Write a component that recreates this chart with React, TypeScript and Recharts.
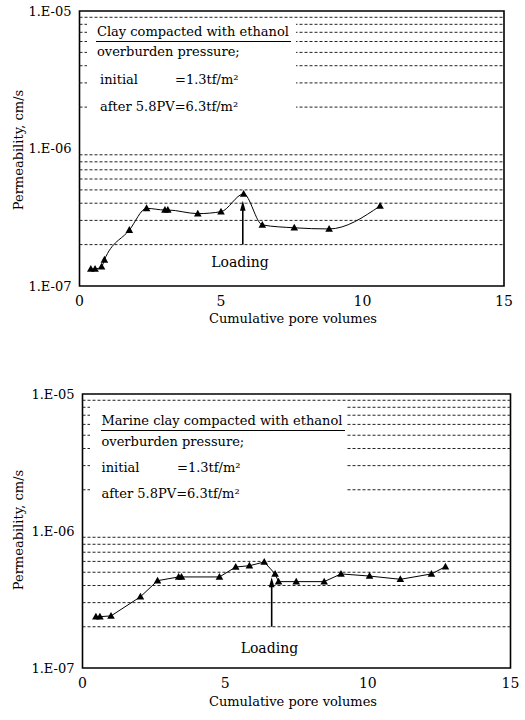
import React from "react";
import {
  LineChart,
  Line,
  XAxis,
  YAxis,
  ReferenceLine,
  ReferenceArea,
  ReferenceDot,
  Customized,
} from "recharts";

// ---- data ----
const topX = [0.4, 0.55, 0.78, 0.88, 1.76, 2.37, 3.02, 3.12, 4.18, 5.0, 5.8, 6.46, 7.59, 8.82, 10.62];
const topK = [1.33e-7, 1.33e-7, 1.38e-7, 1.55e-7, 2.55e-7, 3.67e-7, 3.57e-7, 3.57e-7, 3.36e-7, 3.47e-7, 4.67e-7, 2.78e-7, 2.65e-7, 2.6e-7, 3.82e-7];

const bottomX = [0.47, 0.61, 1.0, 2.03, 2.63, 3.37, 3.47, 4.8, 5.37, 5.85, 6.37, 6.75, 6.87, 7.49, 8.47, 9.06, 10.06, 11.14, 12.23, 12.72];
const bottomK = [2.37e-7, 2.37e-7, 2.4e-7, 3.31e-7, 4.34e-7, 4.62e-7, 4.62e-7, 4.62e-7, 5.46e-7, 5.58e-7, 5.94e-7, 4.86e-7, 4.27e-7, 4.27e-7, 4.27e-7, 4.86e-7, 4.69e-7, 4.44e-7, 4.86e-7, 5.49e-7];

const xTicks = [0, 5, 10, 15];
const yTicks = [1e-7, 1e-6, 1e-5];
const yTickLabels = ["1.E-07", "1.E-06", "1.E-05"];
const gridValues = [
  2e-7, 3e-7, 4e-7, 5e-7, 6e-7, 7e-7, 8e-7, 9e-7,
  2e-6, 3e-6, 4e-6, 5e-6, 6e-6, 7e-6, 8e-6, 9e-6,
];

const topTitle = "Clay compacted with ethanol";
const bottomTitle = "Marine clay compacted with ethanol";
const pressureLabel = "overburden pressure;";
const initialLabel = "initial";
const initialValue = "=1.3tf/m\u00B2";
const afterLabel = "after 5.8PV=6.3tf/m\u00B2";
const xTitle = "Cumulative pore volumes";
const yTitle = "Permeability, cm/s";
const loadingLabel = "Loading";

// loading arrows: [x, base, shaftTop, tip]
const topArrow = [5.77, 2e-7, 3.8e-7, 4.17e-7];
const bottomArrow = [6.63, 2e-7, 4.1e-7, 4.6e-7];
const topLoadingText = [5.67, 1.5e-7];
const bottomLoadingText = [6.55, 1.39e-7];

const FONT = "'DejaVu Serif', 'Liberation Serif', serif";

const topData = topX.map((x, i) => ({ x, k: topK[i] }));
const bottomData = bottomX.map((x, i) => ({ x, k: bottomK[i] }));

const Tri = (props: any) => {
  const { cx, cy } = props;
  if (cx == null || cy == null) return null;
  return (
    <path
      d={`M${cx},${cy - 4} L${cx + 3.8},${cy + 2.8} L${cx - 3.8},${cy + 2.8} Z`}
      fill="#000"
      stroke="none"
    />
  );
};

const ArrowHead = (props: any) => {
  const { cx, cy } = props;
  if (cx == null || cy == null) return null;
  return (
    <path
      d={`M${cx},${cy} L${cx + 2.8},${cy + 10} L${cx - 2.8},${cy + 10} Z`}
      fill="#000"
    />
  );
};

const Empty = () => <g />;

function Panel(props: {
  data: any[];
  yAxisWidth: number;
  right: number;
  bottom: number;
  curve: any;
  arrow: number[];
  loadText: number[];
  xTitleY: number;
  yTitleY: number;
}) {
  const { data, yAxisWidth, right, bottom, curve, arrow, loadText, xTitleY, yTitleY } = props;
  return (
    <LineChart
      width={525}
      height={340}
      data={data}
      margin={{ top: 11, right, bottom, left: 0 }}
    >
      <XAxis
        type="number"
        dataKey="x"
        domain={[0, 15]}
        ticks={xTicks}
        axisLine={false}
        tickLine={false}
        height={30}
        tickMargin={4}
        tick={{ fill: "#000", fontSize: 14, fontFamily: FONT }}
      />
      <YAxis
        type="number"
        scale="log"
        domain={[1e-7, 1e-5]}
        ticks={yTicks}
        allowDataOverflow
        axisLine={false}
        tickLine={false}
        width={yAxisWidth}
        tickFormatter={(v: number) => {
          const i = yTicks.findIndex((t) => Math.abs(Math.log10(t) - Math.log10(v)) < 1e-6);
          return i >= 0 ? yTickLabels[i] : "";
        }}
        tick={{ fill: "#000", fontSize: 13, fontFamily: FONT }}
      />
      {gridValues.map((v) => (
        <ReferenceLine
          key={v}
          y={v}
          stroke="#222"
          strokeWidth={1}
          strokeDasharray="3 2"
        />
      ))}
      <ReferenceArea
        x1={0}
        x2={15}
        y1={1e-7}
        y2={1e-5}
        fill="none"
        fillOpacity={0}
        stroke="#000"
        strokeWidth={1.6}
      />
      <ReferenceLine
        segment={[
          { x: arrow[0], y: arrow[1] },
          { x: arrow[0], y: arrow[2] },
        ]}
        stroke="#000"
        strokeWidth={1.6}
      />
      <ReferenceDot x={arrow[0]} y={arrow[3]} r={3} shape={ArrowHead} />
      <ReferenceDot
        x={loadText[0]}
        y={loadText[1]}
        r={1}
        shape={Empty}
        label={{
          value: loadingLabel,
          position: "center",
          fill: "#000",
          fontSize: 14,
          fontFamily: FONT,
        }}
      />
      <Line
        type={curve}
        dataKey="k"
        stroke="#000"
        strokeWidth={1}
        dot={Tri}
        activeDot={false}
        isAnimationActive={false}
      />
      <Customized
        component={() => (
          <g>
            <text
              x={293}
              y={xTitleY}
              textAnchor="middle"
              dominantBaseline="central"
              fontSize={13}
              fontFamily={FONT}
              fill="#000"
            >
              {xTitle}
            </text>
            <text
              x={18}
              y={yTitleY}
              textAnchor="middle"
              dominantBaseline="central"
              fontSize={13}
              fontFamily={FONT}
              fill="#000"
              transform={`rotate(-90 18 ${yTitleY})`}
            >
              {yTitle}
            </text>
          </g>
        )}
      />
    </LineChart>
  );
}

const lineStyle: React.CSSProperties = {
  position: "absolute",
  fontFamily: FONT,
  fontSize: 13,
  lineHeight: "15px",
  color: "#000",
  whiteSpace: "nowrap",
};

function Note(props: {
  box: number[];
  titleText: string;
  titleLeft: number;
  titleTop: number;
  underlineWidth: number;
  pressTop: number;
  initTop: number;
  initLeft: number;
  valLeft: number;
  afterTop: number;
}) {
  const p = props;
  return (
    <>
      <div
        style={{
          position: "absolute",
          left: p.box[0],
          top: p.box[1],
          width: p.box[2],
          height: p.box[3],
          background: "#fff",
        }}
      />
      <div
        style={{
          ...lineStyle,
          left: p.titleLeft - 1,
          top: p.titleTop,
          width: p.underlineWidth,
          height: 17,
          borderBottom: "1.3px solid #000",
          paddingLeft: 1,
        }}
      >
        {p.titleText}
      </div>
      <div style={{ ...lineStyle, left: p.titleLeft, top: p.pressTop }}>{pressureLabel}</div>
      <div style={{ ...lineStyle, left: p.initLeft, top: p.initTop }}>{initialLabel}</div>
      <div style={{ ...lineStyle, left: p.valLeft, top: p.initTop }}>{initialValue}</div>
      <div style={{ ...lineStyle, left: p.initLeft, top: p.afterTop }}>{afterLabel}</div>
    </>
  );
}

export default function App() {
  return (
    <div style={{ position: "absolute", left: 0, top: 0, width: 525, height: 720, background: "#fff" }}>
      <div style={{ position: "absolute", left: 0, top: 0 }}>
        <Panel
          data={topData}
          yAxisWidth={79.5}
          right={21}
          bottom={24}
          curve="monotone"
          arrow={topArrow}
          loadText={topLoadingText}
          xTitleY={318}
          yTitleY={150}
        />
      </div>
      <Note
        box={[87, 20, 209, 102]}
        titleText={topTitle}
        titleLeft={97}
        titleTop={24}
        underlineWidth={194}
        pressTop={44}
        initTop={72}
        initLeft={100}
        valLeft={175}
        afterTop={99}
      />
      <div style={{ position: "absolute", left: 0, top: 383 }}>
        <Panel
          data={bottomData}
          yAxisWidth={82.5}
          right={14.5}
          bottom={25}
          curve="linear"
          arrow={bottomArrow}
          loadText={bottomLoadingText}
          xTitleY={318}
          yTitleY={147}
        />
      </div>
      <Note
        box={[90, 404, 256, 100]}
        titleText={bottomTitle}
        titleLeft={101.5}
        titleTop={413}
        underlineWidth={243}
        pressTop={434}
        initTop={460}
        initLeft={101.5}
        valLeft={177}
        afterTop={486}
      />
    </div>
  );
}
